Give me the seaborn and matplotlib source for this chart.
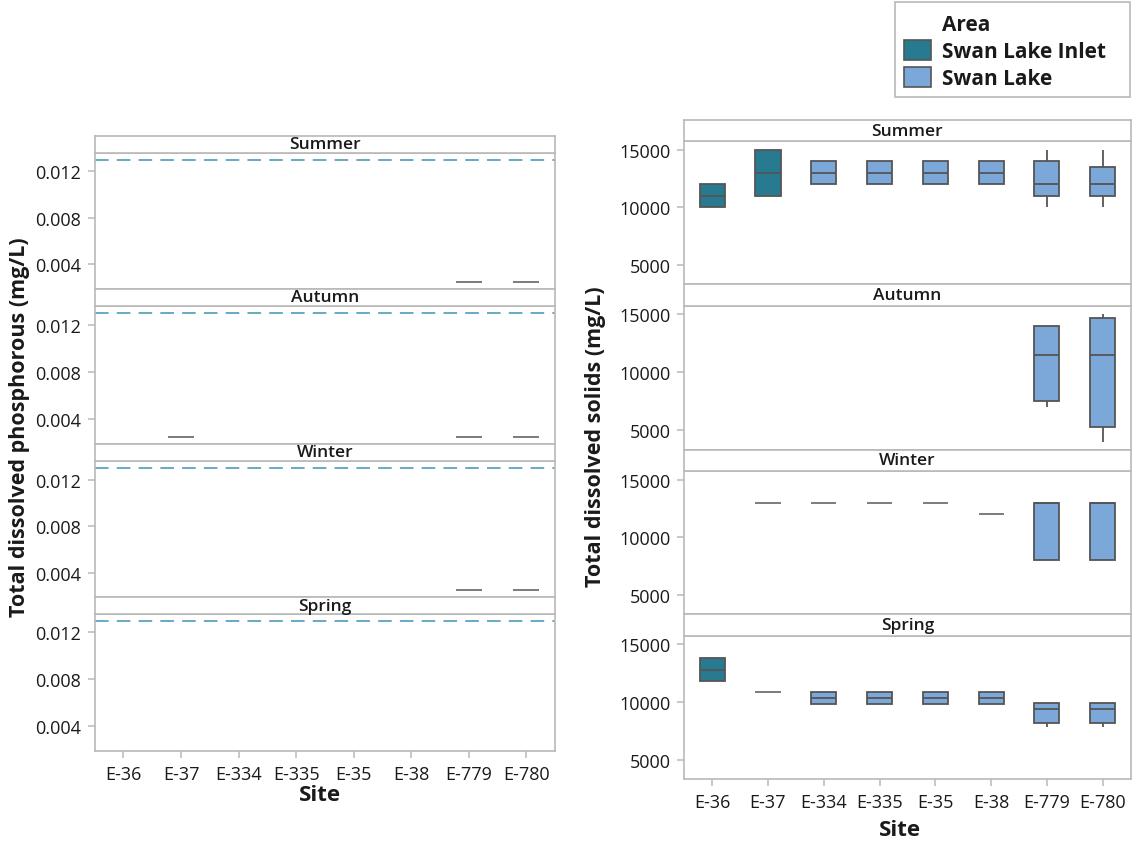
import numpy as np
import pandas as pd
import matplotlib
matplotlib.use("Agg")
import matplotlib.pyplot as plt
from matplotlib.patches import Patch, Rectangle
import seaborn as sns

# ---- categories -----------------------------------------------------------
sites = ["E-36", "E-37", "E-334", "E-335", "E-35", "E-38", "E-779", "E-780"]
site_area = ["Swan Lake Inlet", "Swan Lake Inlet", "Swan Lake", "Swan Lake",
             "Swan Lake", "Swan Lake", "Swan Lake", "Swan Lake"]
area_names = ["Swan Lake Inlet", "Swan Lake"]
area_colors = ["#277a8f", "#7ba7d9"]
seasons = ["Summer", "Autumn", "Winter", "Spring"]

# ---- total dissolved phosphorus (mg/L), samples per site -------------------
tdp_summer = [[], [], [], [], [], [], [0.0025], [0.0025]]
tdp_autumn = [[], [0.0025], [], [], [], [], [0.0025], [0.0025]]
tdp_winter = [[], [], [], [], [], [], [0.0025], [0.0025]]
tdp_spring = [[], [], [], [], [], [], [], []]
tdp_guideline = 0.013

# ---- total dissolved solids (mg/L), samples per site -----------------------
tds_summer = [[10000, 10000, 11000, 12000, 12000],
              [11000, 11000, 13000, 15000, 15000],
              [12000, 12000, 13000, 14000, 14000],
              [12000, 12000, 13000, 14000, 14000],
              [12000, 12000, 13000, 14000, 14000],
              [12000, 12000, 13000, 14000, 14000],
              [10000, 11000, 12000, 14000, 15000],
              [10000, 11000, 12000, 13500, 15000]]
tds_autumn = [[], [], [], [], [], [],
              [7000, 7500, 11500, 14000, 14000],
              [4000, 5300, 11500, 14700, 15000]]
tds_winter = [[], [13000], [13000], [13000], [13000], [12000],
              [8000, 8000, 13000, 13000, 13000],
              [8000, 8000, 13000, 13000, 13000]]
tds_spring = [[11800, 11800, 12800, 13800, 13800],
              [10900],
              [9800, 9800, 10350, 10900, 10900],
              [9800, 9800, 10350, 10900, 10900],
              [9800, 9800, 10350, 10900, 10900],
              [9800, 9800, 10350, 10900, 10900],
              [7850, 8150, 9400, 9900, 9900],
              [7850, 8150, 9400, 9900, 9900]]

tdp_by_season = [tdp_summer, tdp_autumn, tdp_winter, tdp_spring]
tds_by_season = [tds_summer, tds_autumn, tds_winter, tds_spring]

tdp_ticks = [0.004, 0.008, 0.012]
tdp_ticklabels = ["0.004", "0.008", "0.012"]
tds_ticks = [5000, 10000, 15000]
tds_ticklabels = ["5000", "10000", "15000"]

# ---- styling ---------------------------------------------------------------
sns.set_style("white")
plt.rcParams["font.family"] = ["Open Sans", "DejaVu Sans"]
FRAME = "#b9b9b9"
EDGE = "#555555"
FLAT = "#7d7d7d"
TEXT = "#1a1a1a"

W, H = 1137, 845
fig = plt.figure(figsize=(W / 100, H / 100), dpi=100)


def px_axes(x0, top, x1, bottom):
    return fig.add_axes([x0 / W, 1 - bottom / H, (x1 - x0) / W, (bottom - top) / H])


def style_frame(ax):
    for s in ax.spines.values():
        s.set_visible(True)
        s.set_color(FRAME)
        s.set_linewidth(1.2)


def add_strip(x0, top, x1, bottom, label):
    sax = px_axes(x0, top, x1, bottom)
    sax.set_xticks([])
    sax.set_yticks([])
    style_frame(sax)
    sax.text(0.5, 0.5, label, ha="center", va="center", fontsize=12.5,
             fontweight="semibold", color=TEXT, transform=sax.transAxes)


def long_frame(values_per_site):
    rows = []
    for site, area, vals in zip(sites, site_area, values_per_site):
        if len(vals) == 0:
            rows.append((site, area, np.nan))
        for v in vals:
            rows.append((site, area, v))
    return pd.DataFrame(rows, columns=["Site", "Area", "Value"])


def draw_panel(ax, values_per_site, ylim, ticks, ticklabels, bottom):
    df = long_frame(values_per_site)
    if df["Value"].notna().any():
        sns.boxplot(data=df, x="Site", y="Value", hue="Area", order=sites,
                    hue_order=area_names, palette=area_colors, dodge=False,
                    width=0.45, linecolor=EDGE, linewidth=1.3, saturation=1,
                    fliersize=0, showcaps=False, legend=False, ax=ax)
        # boxes holding a single repeated value collapse to a lighter flat line
        for patch in ax.patches:
            ext = patch.get_path().get_extents()
            if ext.height == 0:
                patch.set_edgecolor(FLAT)
        for line in ax.lines:
            y = np.asarray(line.get_ydata(), dtype=float)
            if y.size and np.all(y == y[0]):
                for patch in ax.patches:
                    ext = patch.get_path().get_extents()
                    if ext.height == 0 and np.isclose(ext.y0, y[0]) and \
                            np.isclose(np.mean(line.get_xdata()), (ext.x0 + ext.x1) / 2):
                        line.set_color(FLAT)
    else:
        sns.stripplot(data=df, x="Site", y="Value", order=sites, ax=ax)
    ax.set_xlim(-0.5, len(sites) - 0.5)
    ax.set_ylim(*ylim)
    ax.set_yticks(ticks)
    ax.set_yticklabels(ticklabels, fontweight="medium")
    ax.set_xlabel("")
    ax.set_ylabel("")
    style_frame(ax)
    ax.tick_params(axis="y", direction="out", length=5, width=1.1, color=FRAME,
                   labelsize=13, labelcolor=TEXT, pad=5, left=True)
    if bottom:
        ax.set_xticks(range(len(sites)))
        ax.set_xticklabels(sites, fontweight="medium")
        ax.tick_params(axis="x", direction="out", length=5, width=1.1, color=FRAME,
                       labelsize=13, labelcolor=TEXT, pad=5, bottom=True)
    else:
        ax.set_xticks([])


# ---- left column: phosphorus ----------------------------------------------
left_x0, left_x1 = 94.7, 555
left_rows = [(136.7, 154, 289.7), (289.7, 307, 444.7),
             (444.7, 462.3, 598.3), (598.3, 615, 752)]
for i, (season, vals) in enumerate(zip(seasons, tdp_by_season)):
    st, at, ab = left_rows[i]
    ax = px_axes(left_x0, at, left_x1, ab)
    draw_panel(ax, vals, (0.0019, 0.01357), tdp_ticks, tdp_ticklabels, i == 3)
    ax.axhline(tdp_guideline, color="#66aac6", lw=1.4, ls=(0, (7.0, 4.2)), zorder=1)
    add_strip(left_x0, st, left_x1, at, season)

# ---- right column: dissolved solids ---------------------------------------
right_x0, right_x1 = 684.3, 1130.5
right_rows = [(121, 142.3, 285), (285, 306.7, 450.7),
              (450.7, 472.3, 615), (615, 636.7, 780)]
for i, (season, vals) in enumerate(zip(seasons, tds_by_season)):
    st, at, ab = right_rows[i]
    ax = px_axes(right_x0, at, right_x1, ab)
    draw_panel(ax, vals, (3340, 15730), tds_ticks, tds_ticklabels, i == 3)
    add_strip(right_x0, st, right_x1, at, season)

# ---- axis titles -----------------------------------------------------------
fig.text(20 / W, 1 - 427 / H, "Total dissolved phosphorous (mg/L)", rotation=90,
         ha="center", va="center", fontsize=15.5, fontweight="bold", color=TEXT)
fig.text(596 / W, 1 - 437 / H, "Total dissolved solids (mg/L)", rotation=90,
         ha="center", va="center", fontsize=15.5, fontweight="bold", color=TEXT)
fig.text(320 / W, 1 - 796 / H, "Site", ha="center", va="center", fontsize=16,
         fontweight="bold", color=TEXT)
fig.text(900 / W, 1 - 831 / H, "Site", ha="center", va="center", fontsize=16,
         fontweight="bold", color=TEXT)

# ---- legend ----------------------------------------------------------------
fig.patches.append(Rectangle((895 / W, 1 - 98 / H), 235 / W, 95 / H,
                             transform=fig.transFigure, fill=False,
                             edgecolor=FRAME, linewidth=1.2))
handles = [Patch(facecolor="none", edgecolor="none", label="Area")]
handles += [Patch(facecolor=c, edgecolor=EDGE, linewidth=1.2, label=n)
            for n, c in zip(area_names, area_colors)]
leg = fig.legend(handles=handles, loc="upper left",
                 bbox_to_anchor=(895 / W, 1 - 5 / H), borderaxespad=0,
                 frameon=False, handlelength=1.3, handleheight=1.1,
                 labelspacing=0.22, borderpad=0.45, handletextpad=0.5,
                 prop={"size": 15, "weight": "bold"})
for t in leg.get_texts():
    t.set_color(TEXT)

fig.savefig("out.png", dpi=100, facecolor="white")
